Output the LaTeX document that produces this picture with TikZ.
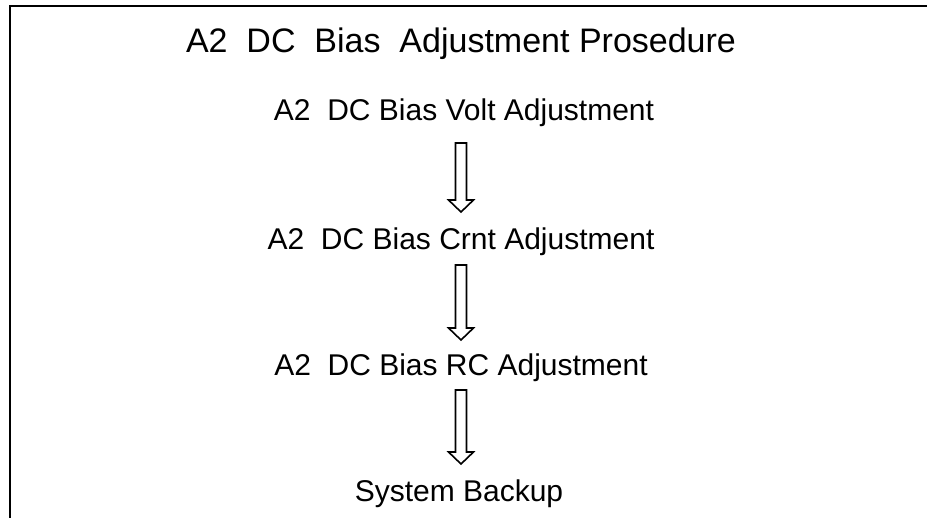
\documentclass[tikz,border=0pt]{standalone}
\usepackage{fontspec}
\setmainfont{Liberation Sans}
\usetikzlibrary{calc}
\tikzset{
  titletext/.style={anchor=base, inner sep=0pt, font=\fontsize{34}{38}\selectfont},
  steptext/.style={anchor=base, inner sep=0pt, font=\fontsize{30}{34}\selectfont},
  fatarr/.style={draw=black, line width=1.6pt, fill=white, line join=miter},
  frame/.style={line width=2.5pt, black}
}
\newcommand\fatarrow[2]{%
  \draw[fatarr] ($(#1)+(-5.5,0)$) -- ($(#2)+(-5.5,12)$) -- ($(#2)+(-12.5,12)$) -- (#2)
    -- ($(#2)+(12.5,12)$) -- ($(#2)+(5.5,12)$) -- ($(#1)+(5.5,0)$) -- cycle;}
\begin{document}
\begin{tikzpicture}[x=1pt,y=1pt]
\useasboundingbox (0,0) rectangle (927,518);
\fill[white] (0,0) rectangle (927,518);
\coordinate (fr1) at (10,0);
\coordinate (fr2) at (10,512);
\coordinate (fr3) at (927,512);
\draw[frame] (fr1) -- (fr2) -- (fr3);
\node[titletext] (title) at (461,465) {A2\ \ DC\ \ Bias\ \ Adjustment Prosedure};
\node[steptext] (l1) at (464,397) {A2\ \ DC Bias Volt Adjustment};
\node[steptext] (l2) at (461,268) {A2\ \ DC Bias Crnt Adjustment};
\node[steptext] (l3) at (461,142) {A2\ \ DC Bias RC Adjustment};
\node[steptext] (l4) at (459,16) {System Backup};
\coordinate (a1t) at (461,375);
\coordinate (a1h) at (461,306);
\coordinate (a2t) at (461,253);
\coordinate (a2h) at (461,178);
\coordinate (a3t) at (461,128);
\coordinate (a3h) at (461,54);
\fatarrow{a1t}{a1h}
\fatarrow{a2t}{a2h}
\fatarrow{a3t}{a3h}
\end{tikzpicture}
\end{document}
